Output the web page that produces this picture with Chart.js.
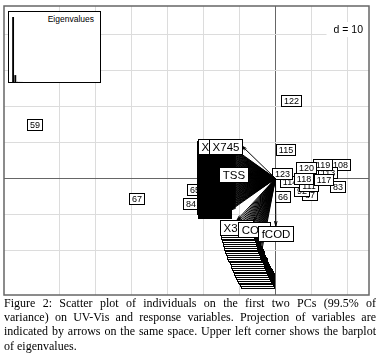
<!DOCTYPE html>
<html>
<head>
<meta charset="utf-8">
<script src="https://cdn.jsdelivr.net/npm/chart.js"></script>
<style>
  body { margin: 0; background: #fff; }
  #wrap { position: relative; width: 382px; height: 358px; overflow: hidden; }
  #biplot { position: absolute; left: 0; top: 0; }
  #inset { position: absolute; left: 8px; top: 11px; width: 93px; height: 72px; box-sizing: border-box;
           border: 1px solid #000; background: #fff; }
  #eig { position: absolute; left: 3px; top: 5px; }
  #eigTitle { position: absolute; right: 6px; top: 2px; font: 8.5px "Liberation Sans", Arial, sans-serif; color: #000; }
  #caption { position: absolute; left: 4px; top: 296px; width: 372px; font: 12px "Liberation Serif", "Times New Roman", serif;
             line-height: 14.2px; color: #000; }
  #caption .ln { text-align: justify; text-align-last: justify; }
  #caption .ln.last { text-align-last: left; }
</style>
</head>
<body>
<div id="wrap">
  <canvas id="biplot" width="382" height="300"></canvas>
  <div id="inset">
    <canvas id="eig" width="22" height="65"></canvas>
    <div id="eigTitle">Eigenvalues</div>
  </div>
  <div id="caption">
    <div class="ln">Figure 2: Scatter plot of individuals on the first two PCs (99.5% of</div>
    <div class="ln">variance) on UV-Vis and response variables. Projection of variables are</div>
    <div class="ln">indicated by arrows on the same space. Upper left corner shows the barplot</div>
    <div class="ln last">of eigenvalues.</div>
  </div>
</div>
<script>
// grid every d = 10 units
const gridStep = 10;
const gridX = [-60, -50, -40, -30, -20, -10, 0, 10, 20];
const gridY = [-20, -10, 0, 10, 20, 30, 40];

// individuals (row names) and their coordinates on PC1 / PC2
const indLabels = ['59', '65', '66', '67', '83', '84', '87', '92', '108', '111', '113', '114', '115', '117', '118', '119', '120', '122', '123'];
const indX = [-66.81, -22.58, 1.81, -38.75, 17.22, -23.53, 9.31, 7.36, 18.00, 9.03, 14.58, 4.03, 2.78, 13.47, 7.92, 13.06, 8.47, 4.44, 1.94];
const indY = [15.14, -2.92, -4.86, -5.56, -2.08, -7.00, -4.31, -3.33, 4.03, -1.81, 1.81, -0.83, 8.19, -0.28, 0.14, 4.03, 3.06, 21.67, 1.53];

// UV-Vis variables (wavelength, nm) projected on the same plane
const wavelengths = [
  200, 205, 210, 215, 220, 225, 230, 235, 240, 245,
  250, 255, 260, 265, 270, 275, 280, 285, 290, 295,
  300, 305, 310, 315, 320, 325, 330, 335, 340, 345,
  350, 355, 360, 365, 370, 375, 380, 385, 390, 395,
  400, 405, 410, 415, 420, 425, 430, 435, 440, 445,
  450, 455, 460, 465, 470, 475, 480, 485, 490, 495,
  500, 505, 510, 515, 520, 525, 530, 535, 540, 545,
  550, 555, 560, 565, 570, 575, 580, 585, 590, 595,
  600, 605, 610, 615, 620, 625, 630, 635, 640, 645,
  650, 655, 660, 665, 670, 675, 680, 685, 690, 695,
  700, 705, 710, 715, 720, 725, 730, 735, 740, 745
];
const waveX = [
  -5.00, -5.28, -5.56, -5.83, -6.11, -6.34, -6.58, -6.81, -7.05, -7.28,
  -7.47, -7.67, -7.86, -8.06, -8.25, -8.48, -8.72, -8.95, -9.19, -9.42,
  -9.55, -9.67, -9.80, -9.93, -10.06, -10.19, -10.31, -10.44, -10.57, -10.69,
  -12.36, -12.42, -12.39, -12.33, -12.45, -12.40, -12.37, -12.43, -12.38, -12.41,
  -12.35, -12.44, -12.39, -12.42, -12.36, -12.40, -12.45, -12.38, -12.41, -12.34,
  -12.43, -12.39, -12.37, -12.44, -12.40, -12.36, -12.42, -12.39, -12.45, -12.38,
  -12.41, -12.35, -12.43, -12.40, -12.37, -12.44, -12.39, -12.42, -12.36, -12.40,
  -12.45, -12.38, -12.41, -12.34, -12.43, -12.39, -12.37, -12.44, -12.40, -12.36,
  -12.42, -12.39, -12.45, -12.38, -12.41, -12.35, -12.43, -12.40, -12.37, -12.44,
  -12.39, -12.42, -12.36, -12.40, -12.45, -12.38, -12.41, -12.34, -12.43, -12.39,
  -12.37, -12.44, -12.40, -12.36, -12.42, -12.39, -12.45, -12.38, -12.36, -9.31
];
const waveY = [
  -26.25, -25.74, -25.23, -24.73, -24.22, -23.71, -23.20, -22.70, -22.19, -21.68,
  -21.17, -20.67, -20.16, -19.65, -19.14, -18.64, -18.13, -17.62, -17.11, -16.61,
  -16.10, -15.59, -15.08, -14.58, -14.07, -13.56, -13.05, -12.55, -12.04, -11.53,
  -8.75, -8.53, -8.30, -8.07, -7.85, -7.62, -7.40, -7.17, -6.94, -6.72,
  -6.49, -6.27, -6.04, -5.81, -5.59, -5.36, -5.13, -4.91, -4.68, -4.46,
  -4.23, -4.00, -3.78, -3.55, -3.33, -3.10, -2.87, -2.65, -2.42, -2.19,
  -1.97, -1.74, -1.52, -1.29, -1.06, -0.84, -0.61, -0.38, -0.16, 0.07,
  0.29, 0.52, 0.75, 0.97, 1.20, 1.42, 1.65, 1.88, 2.10, 2.33,
  2.56, 2.78, 3.01, 3.23, 3.46, 3.69, 3.91, 4.14, 4.37, 4.59,
  4.82, 5.04, 5.27, 5.50, 5.72, 5.95, 6.18, 6.40, 6.63, 6.85,
  7.08, 7.31, 7.53, 7.76, 7.99, 8.21, 8.44, 8.66, 8.89, 9.03
];

// response variables
const respNames = ['TSS', 'COD', 'fCOD'];
const respX = [-7.64, -6.06, 0.08];
const respY = [1.25, -12.00, -13.19];

// eigenvalues for the inset barplot
const eigenvalues = [152.3, 16.2, 0.42, 0.21, 0.12, 0.07, 0.05, 0.03, 0.02, 0.01];

const varLabels = wavelengths.map(w => 'X' + w).concat(respNames);
const varPoints = waveX.map((x, i) => ({ x: x, y: waveY[i] }))
  .concat(respX.map((x, i) => ({ x: x, y: respY[i] })));
const indPoints = indX.map((x, i) => ({ x: x, y: indY[i] }));

// box with a label, as ade4 draws it (white fill, black border)
function drawBox(ctx, text, cx, cy, yh) {
  const w = ctx.measureText(' ' + text + ' ').width;
  const l = Math.round(cx - w / 2) + 0.5, t = Math.round(cy - yh) + 0.5;
  const bw = Math.round(w), bh = Math.round(2 * yh);
  ctx.fillStyle = '#fff';
  ctx.fillRect(l, t, bw, bh);
  ctx.strokeRect(l, t, bw, bh);
  ctx.fillStyle = '#000';
  ctx.fillText(text, l + bw / 2, t + bh / 2 + 0.5);
}

function drawArrow(ctx, x0, y0, x1, y1) {
  const a = Math.atan2(y1 - y0, x1 - x0), len = 5, ang = Math.PI / 12;
  ctx.beginPath();
  ctx.moveTo(x0, y0);
  ctx.lineTo(x1, y1);
  ctx.moveTo(x1 - len * Math.cos(a - ang), y1 - len * Math.sin(a - ang));
  ctx.lineTo(x1, y1);
  ctx.lineTo(x1 - len * Math.cos(a + ang), y1 - len * Math.sin(a + ang));
  ctx.stroke();
}

const biplotPlugin = {
  id: 'biplot',
  afterDatasetsDraw(chart) {
    const ctx = chart.ctx, area = chart.chartArea;
    const ox = chart.scales.x.getPixelForValue(0), oy = chart.scales.y.getPixelForValue(0);
    ctx.save();
    ctx.beginPath();
    ctx.rect(area.left, area.top, area.right - area.left, area.bottom - area.top);
    ctx.clip();
    ctx.textAlign = 'center';
    ctx.textBaseline = 'middle';
    ctx.strokeStyle = '#000';
    ctx.lineWidth = 1;

    // individuals first (labels centred on points)
    ctx.font = '9px "Liberation Sans"';
    chart.getDatasetMeta(0).data.forEach((pt, i) => drawBox(ctx, indLabels[i], pt.x, pt.y, 5.3));

    // then all the arrows, then their labels placed outside the tip
    const tips = chart.getDatasetMeta(1).data;
    tips.forEach(pt => drawArrow(ctx, ox, oy, pt.x, pt.y));
    ctx.font = '11.5px "Liberation Sans"';
    const yh = 7.5;
    tips.forEach((pt, i) => {
      const w = ctx.measureText(' ' + varLabels[i] + ' ').width;
      const dx = pt.x - ox, dy = oy - pt.y;
      let cx = pt.x, cy = pt.y;
      if (dx > dy && dx > -dy) cx += w / 2;
      else if (dx > dy) cy += yh;
      else if (dx <= -dy) cx -= w / 2;
      else cy -= yh;
      drawBox(ctx, varLabels[i], cx, cy, yh);
    });

    // d = 10 in the upper right corner
    ctx.font = '10.5px "Liberation Sans"';
    const dTxt = 'd = ' + gridStep;
    const tw = ctx.measureText(dTxt).width;
    ctx.fillStyle = '#fff';
    ctx.fillRect(area.right - tw - 13, area.top + 16, tw + 13, 15);
    ctx.fillStyle = '#000';
    ctx.textAlign = 'right';
    ctx.fillText(dTxt, area.right - 6, area.top + 24);
    ctx.restore();

    ctx.save();
    ctx.strokeStyle = '#666';
    ctx.lineWidth = 1.5;
    ctx.strokeRect(area.left, area.top, area.right - area.left, area.bottom - area.top);
    ctx.restore();
  }
};

const gridColor = c => (c.tick && c.tick.value === 0) ? '#666' : '#dcdcdc';

new Chart(document.getElementById('biplot'), {
  type: 'scatter',
  data: {
    datasets: [
      { label: 'individuals', data: indPoints, pointRadius: 0 },
      { label: 'variables', data: varPoints, pointRadius: 0 }
    ]
  },
  options: {
    responsive: false,
    animation: false,
    layout: { padding: { left: 4, top: 6, right: 13, bottom: 5 } },
    plugins: { legend: { display: false }, tooltip: { enabled: false } },
    scales: {
      x: {
        type: 'linear', min: -75.42, max: 25.97,
        ticks: { display: false },
        border: { display: false },
        grid: { drawTicks: false, color: gridColor, lineWidth: 1 },
        afterBuildTicks: s => { s.ticks = gridX.map(v => ({ value: v })); }
      },
      y: {
        type: 'linear', min: -32.36, max: 47.92,
        ticks: { display: false },
        border: { display: false },
        grid: { drawTicks: false, color: gridColor, lineWidth: 1 },
        afterBuildTicks: s => { s.ticks = gridY.map(v => ({ value: v })); }
      }
    }
  },
  plugins: [biplotPlugin]
});

new Chart(document.getElementById('eig'), {
  type: 'bar',
  data: {
    labels: eigenvalues.map((v, i) => i + 1),
    datasets: [{ data: eigenvalues, backgroundColor: '#000', barPercentage: 1, categoryPercentage: 0.85 }]
  },
  options: {
    responsive: false,
    animation: false,
    layout: { padding: 0 },
    plugins: { legend: { display: false }, tooltip: { enabled: false } },
    scales: {
      x: { display: false },
      y: { display: false, min: 0, max: eigenvalues[0] }
    }
  }
});
</script>
</body>
</html>
